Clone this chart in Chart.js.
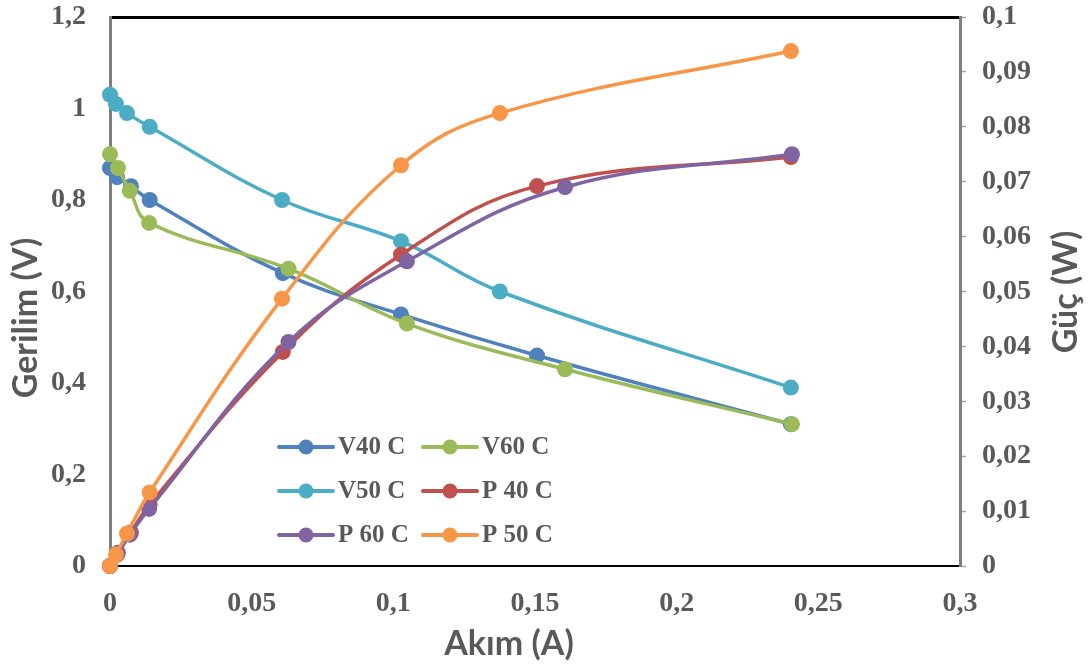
<!DOCTYPE html>
<html>
<head>
<meta charset="utf-8">
<script src="https://cdn.jsdelivr.net/npm/chart.js@4"></script>
<style>
  html, body { margin: 0; padding: 0; background: #fff; }
  #wrap { width: 1088px; height: 666px; }
</style>
</head>
<body>
<div id="wrap"><canvas id="c" width="1088" height="666"></canvas></div>
<script>
// ---- Data ----
const current40 = [0, 0.0025, 0.0074, 0.014, 0.061, 0.1027, 0.1507, 0.2403];
const voltage40 = [0.87, 0.85, 0.83, 0.80, 0.64, 0.55, 0.46, 0.31];
const power40   = [0, 0.0021, 0.0061, 0.0112, 0.0390, 0.0567, 0.0692, 0.0745];

const current50 = [0, 0.0021, 0.006, 0.014, 0.0607, 0.1027, 0.1376, 0.2403];
const voltage50 = [1.03, 1.01, 0.99, 0.96, 0.80, 0.71, 0.60, 0.39];
const power50   = [0, 0.0021, 0.0059, 0.0134, 0.0487, 0.0730, 0.0825, 0.0938];

const current60 = [0, 0.0028, 0.007, 0.0138, 0.063, 0.1048, 0.1606, 0.2407];
const voltage60 = [0.90, 0.87, 0.82, 0.75, 0.65, 0.53, 0.43, 0.31];
const power60   = [0, 0.0024, 0.0057, 0.0104, 0.0408, 0.0555, 0.0690, 0.0750];

const seriesNames = ['V40 C', 'V60 C', 'V50 C', 'P 40 C', 'P 60 C', 'P 50 C'];
const xTickLabels = ['0', '0,05', '0,1', '0,15', '0,2', '0,25', '0,3'];
const yTickLabels = ['0', '0,2', '0,4', '0,6', '0,8', '1', '1,2'];
const y2TickLabels = ['0', '0,01', '0,02', '0,03', '0,04', '0,05', '0,06', '0,07', '0,08', '0,09', '0,1'];
const xTitle = 'Akım (A)';
const yTitle = 'Gerilim (V)';
const y2Title = 'Güç (W)';

// ---- Styling ----
const colors = ['#4F81BD', '#9BBB59', '#4BACC6', '#C0504D', '#8064A2', '#F79646'];
const textColor = '#595959';
const tickFont = { family: '"Liberation Serif", "Times New Roman", serif', size: 28, weight: 'bold' };

function pts(xs, ys) { return xs.map((x, i) => ({ x: x, y: ys[i] })); }

const seriesData = [
  { d: pts(current40, voltage40), axis: 'y' },
  { d: pts(current60, voltage60), axis: 'y' },
  { d: pts(current50, voltage50), axis: 'y' },
  { d: pts(current40, power40), axis: 'y2' },
  { d: pts(current60, power60), axis: 'y2' },
  { d: pts(current50, power50), axis: 'y2' }
];

const datasets = seriesData.map((s, i) => ({
  label: seriesNames[i],
  data: s.d,
  yAxisID: s.axis,
  borderColor: colors[i],
  backgroundColor: colors[i],
  pointBackgroundColor: colors[i],
  pointBorderColor: colors[i],
  borderWidth: 3.5,
  pointRadius: 8,
  pointBorderWidth: 0,
  tension: 0.4,
  fill: false,
  clip: false,
  order: seriesNames.length - 1 - i
}));

const overlay = {
  id: 'overlay',
  afterDraw(chart) {
    const ctx = chart.ctx;
    ctx.save();
    // Axis titles
    ctx.fillStyle = textColor;
    ctx.font = 'bold 34px Lato, "Open Sans", sans-serif';
    ctx.textAlign = 'center';
    ctx.textBaseline = 'middle';
    ctx.fillText(xTitle, 509, 644);
    ctx.save();
    ctx.translate(26, 318);
    ctx.rotate(-Math.PI / 2);
    ctx.fillText(yTitle, 0, 0);
    ctx.restore();
    ctx.save();
    ctx.translate(1066, 292);
    ctx.rotate(-Math.PI / 2);
    ctx.fillText(y2Title, 0, 0);
    ctx.restore();

    // Legend inside the plot
    const cols = [279, 423];
    const rows = [447, 491, 535];
    ctx.font = 'bold 25px "Liberation Serif", "Times New Roman", serif';
    ctx.textAlign = 'left';
    chart.data.datasets.forEach((ds, i) => {
      const x = cols[i % 2];
      const y = rows[Math.floor(i / 2)];
      ctx.strokeStyle = ds.borderColor;
      ctx.lineWidth = 4;
      ctx.lineCap = 'round';
      ctx.beginPath();
      ctx.moveTo(x, y);
      ctx.lineTo(x + 54, y);
      ctx.stroke();
      ctx.fillStyle = ds.borderColor;
      ctx.beginPath();
      ctx.arc(x + 27, y, 7.5, 0, Math.PI * 2);
      ctx.fill();
      ctx.fillStyle = textColor;
      ctx.fillText(ds.label, x + 59, y + 1);
    });
    ctx.restore();
  }
};

function noPadV(s) { s.paddingTop = 0; s.paddingBottom = 0; }
function noPadH(s) { s.paddingLeft = 0; s.paddingRight = 0; }

new Chart(document.getElementById('c'), {
  type: 'line',
  data: { datasets: datasets },
  options: {
    responsive: false,
    animation: false,
    devicePixelRatio: 1,
    layout: { padding: 0 },
    plugins: { legend: { display: false }, tooltip: { enabled: false } },
    scales: {
      x: {
        type: 'linear',
        position: 'bottom',
        min: 0, max: 0.3,
        afterFit(s) { s.height = 100; noPadH(s); },
        grid: { display: true, drawOnChartArea: false, drawTicks: false },
        border: { display: true, color: '#000', width: 2 },
        ticks: {
          stepSize: 0.05,
          padding: 21,
          color: textColor,
          font: tickFont,
          maxRotation: 0,
          callback: (v, i) => xTickLabels[i]
        }
      },
      xTop: {
        type: 'linear',
        position: 'top',
        min: 0, max: 0.3,
        afterFit(s) { s.height = 17; noPadH(s); },
        grid: { display: true, drawOnChartArea: false, drawTicks: false },
        border: { display: true, color: '#000', width: 3 },
        ticks: { display: false }
      },
      y: {
        type: 'linear',
        position: 'left',
        min: 0, max: 1.2,
        afterFit(s) { s.width = 110; noPadV(s); },
        grid: { display: true, drawOnChartArea: false, drawTicks: false },
        border: { display: true, color: '#7f7f7f', width: 3 },
        ticks: {
          stepSize: 0.2,
          padding: 24,
          color: textColor,
          font: tickFont,
          callback: (v, i) => yTickLabels[i]
        }
      },
      y2: {
        type: 'linear',
        position: 'right',
        min: 0, max: 0.1,
        afterFit(s) { s.width = 128; noPadV(s); },
        grid: { display: true, drawOnChartArea: false, drawTicks: true, tickLength: 6, color: '#a6a6a6', tickWidth: 1.5 },
        border: { display: true, color: '#7f7f7f', width: 3 },
        ticks: {
          stepSize: 0.01,
          padding: 16,
          color: textColor,
          font: tickFont,
          callback: (v, i) => y2TickLabels[i]
        }
      }
    }
  },
  plugins: [overlay]
});
</script>
</body>
</html>
